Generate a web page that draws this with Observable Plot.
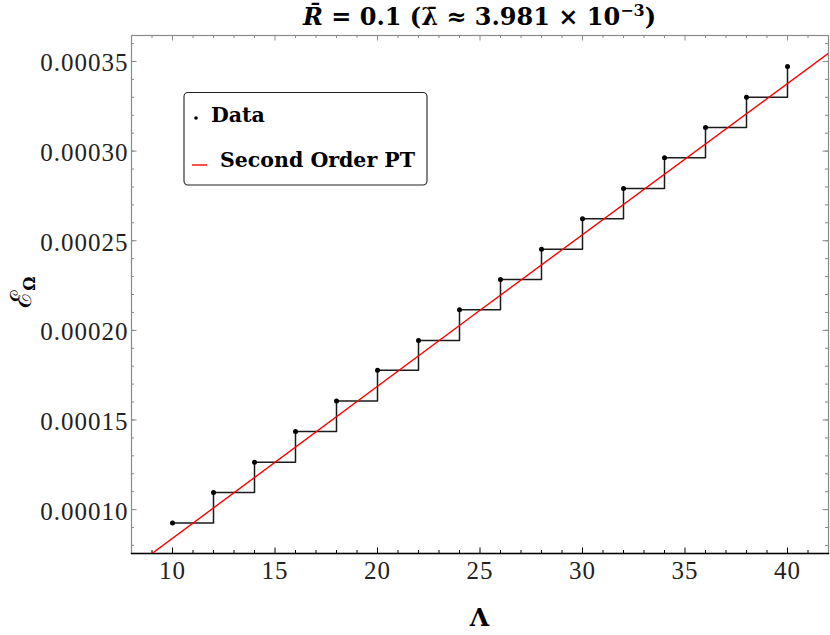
<!DOCTYPE html>
<html><head><meta charset="utf-8">
<script src="https://cdn.jsdelivr.net/npm/d3@7"></script>
<script src="https://cdn.jsdelivr.net/npm/@observablehq/plot@0.6"></script>
<style>body{margin:0;background:#fff}#chart{width:830px;height:635px}</style>
</head><body><div id="chart"></div>
<script>
// Data
const lambdaVals = [10, 12, 14, 16, 18, 20, 22, 24, 26, 28, 30, 32, 34, 36, 38, 40];
const energyVals = [0.0000925, 0.0001095, 0.0001264, 0.0001435, 0.0001606, 0.0001777, 0.0001944, 0.0002115,
                    0.0002283, 0.0002453, 0.0002623, 0.0002792, 0.0002963, 0.0003132, 0.0003301, 0.0003472];
const ptLambda = [8, 25, 42];
const ptEnergy = [0.0000670, 0.0002112, 0.0003546];
const xTicks = [10, 15, 20, 25, 30, 35, 40];
const yTicks = [0.00010, 0.00015, 0.00020, 0.00025, 0.00030, 0.00035];
const xMinor = d3.range(8, 43, 1);
const yMinor = d3.range(8, 37).map(i => i * 0.00001);
const xDomain = [8, 42];
const yDomain = [0.0000755, 0.0003645];
const legendLabels = ["Data", "Second Order PT"];

const data = lambdaVals.map((x, i) => ({x, y: energyVals[i]}));
const pt = ptLambda.map((x, i) => ({x, y: ptEnergy[i]}));

const W = 830, H = 635, mL = 131, mR = 2, mT = 35, mB = 82;
const pw = W - mL - mR, ph = H - mT - mB;
const serif = "'DejaVu Serif', serif";
const thin = "'Liberation Serif', serif";
const gray = "#8a8a8a";

const svg = Plot.plot({
  width: W, height: H,
  marginLeft: mL, marginRight: mR, marginTop: mT, marginBottom: mB,
  style: {fontFamily: serif, background: "white"},
  x: {domain: xDomain, axis: null},
  y: {domain: yDomain, axis: null},
  marks: [
    // ticks (inward) – bottom
    Plot.tickX(xMinor.filter(d => d % 5 !== 0), {x: d => d, insetTop: ph - 3, stroke: "black", strokeWidth: 1}),
    Plot.tickX(xTicks, {x: d => d, insetTop: ph - 5.5, stroke: "black", strokeWidth: 1}),
    // top
    Plot.tickX(xMinor.filter(d => d % 5 !== 0), {x: d => d, insetBottom: ph - 3, stroke: gray, strokeWidth: 1}),
    Plot.tickX(xTicks, {x: d => d, insetBottom: ph - 5.5, stroke: gray, strokeWidth: 1}),
    // left
    Plot.tickY(yMinor, {y: d => d, insetRight: pw - 3, stroke: gray, strokeWidth: 1}),
    Plot.tickY(yTicks, {y: d => d, insetRight: pw - 5.5, stroke: gray, strokeWidth: 1}),
    // right
    Plot.tickY(yMinor, {y: d => d, insetLeft: pw - 3, stroke: gray, strokeWidth: 1}),
    Plot.tickY(yTicks, {y: d => d, insetLeft: pw - 5.5, stroke: gray, strokeWidth: 1}),
    Plot.frame({stroke: gray, strokeWidth: 1.2}),
    Plot.frame({anchor: "bottom", stroke: "black", strokeWidth: 1.4}),
    // data
    Plot.line(data, {x: "x", y: "y", curve: "step-after", stroke: "#1a1a1a", strokeWidth: 1.5}),
    Plot.line(pt, {x: "x", y: "y", stroke: "#ff0000", strokeWidth: 1.4, clip: true}),
    Plot.dot(data, {x: "x", y: "y", r: 2.5, fill: "black", stroke: "none"}),
    // tick labels
    Plot.text(xTicks, {x: d => d, text: d => String(d), frameAnchor: "bottom", dy: 25, fontSize: 25,
      fontFamily: thin, fill: "#222"}),
    Plot.text(yTicks, {y: d => d, text: d => d3.format(".5f")(d), frameAnchor: "left", dx: -3, dy: 2,
      textAnchor: "end", fontSize: 25, fontFamily: thin, fill: "#222"})
  ]
});

const s = d3.select(svg);
s.selectAll("text").filter(function() { return /^[0-9.]+$/.test(this.textContent); })
  .style("letter-spacing", "1px");

// Title
const t = s.append("text").attr("x", mL + pw / 2).attr("y", 25).attr("text-anchor", "middle")
  .attr("font-family", serif).attr("font-weight", "bold").attr("font-size", 24).attr("fill", "black");
t.append("tspan").attr("font-style", "italic").text("R\u0304");
t.append("tspan").text(" = 0.1 (\u03BB\u0304 \u2248 3.981 \u00D7 10");
t.append("tspan").attr("dy", -9).attr("font-size", 16).text("\u22123");
t.append("tspan").attr("dy", 9).text(")");

// X label
s.append("text").attr("x", mL + pw / 2).attr("y", 626).attr("text-anchor", "middle")
  .attr("font-family", serif).attr("font-weight", "bold").attr("font-size", 25).text("\u039B");

// Y label
const yl = s.append("text").attr("transform", `translate(31,${mT + ph / 2 - 2}) rotate(-90)`)
  .attr("text-anchor", "middle").attr("font-family", serif).attr("font-size", 29);
yl.append("tspan").text("\u2130");
yl.append("tspan").attr("dy", 4).attr("font-size", 16).attr("font-weight", "bold").text("\u03A9");

// Legend
const lg = s.append("g").attr("text-anchor", "start");
lg.append("rect").attr("x", 184).attr("y", 92.5).attr("width", 243).attr("height", 92.5).attr("rx", 4)
  .attr("fill", "white").attr("stroke", "#222").attr("stroke-width", 1.1);
lg.append("circle").attr("cx", 196).attr("cy", 118).attr("r", 1.8).attr("fill", "black");
lg.append("text").attr("x", 211).attr("y", 122).attr("text-anchor", "start").attr("font-family", serif)
  .attr("font-weight", "bold").attr("font-size", 20.5).text(legendLabels[0]);
lg.append("line").attr("x1", 192).attr("x2", 207).attr("y1", 165).attr("y2", 165)
  .attr("stroke", "#ff0000").attr("stroke-width", 1.4);
lg.append("text").attr("x", 220).attr("y", 167).attr("text-anchor", "start").attr("font-family", serif)
  .attr("font-weight", "bold").attr("font-size", 20.5).text(legendLabels[1]);

document.getElementById("chart").appendChild(svg);
</script>
</body></html>
